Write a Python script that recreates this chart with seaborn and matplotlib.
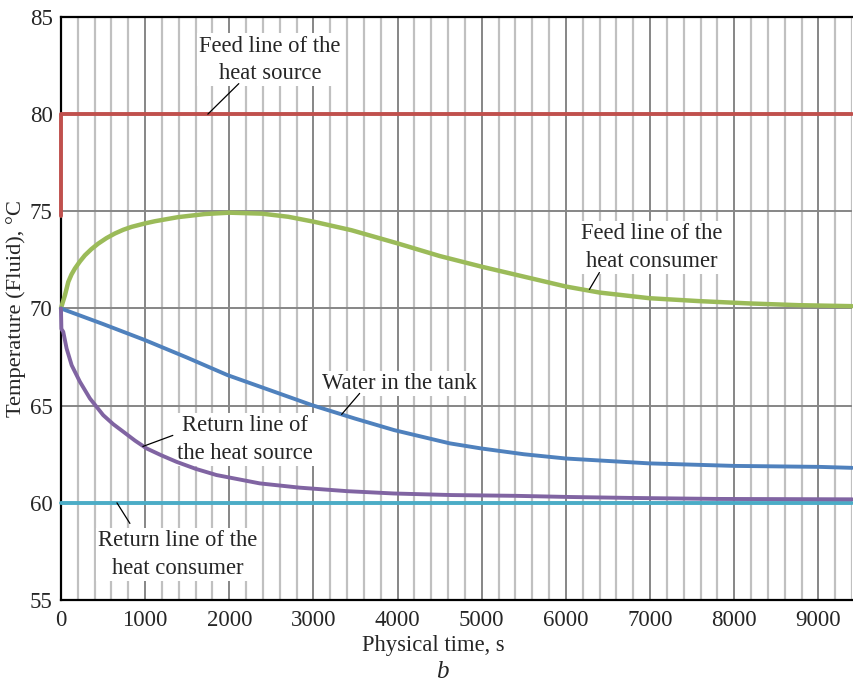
import numpy as np
import pandas as pd
import seaborn as sns
import matplotlib.pyplot as plt
from matplotlib.ticker import MultipleLocator

sns.set_style("white")
plt.rcParams["font.family"] = ["Liberation Serif", "DejaVu Serif"]

# Feed line of the heat source (red)
t_feed_src = [0, 0, 9400]
T_feed_src = [74.75, 80.0, 80.0]

# Return line of the heat consumer (cyan)
t_ret_con = [0, 9400]
T_ret_con = [60.0, 60.0]

# Feed line of the heat consumer (green)
t_feed_con = [0, 20, 47, 87, 125, 166, 225, 285, 360, 443, 540, 641, 740, 839,
              1000, 1116, 1390, 1710, 2000, 2390, 2700, 3010, 3450, 4000, 4500,
              5000, 5490, 6000, 6400, 6990, 7580, 8180, 8770, 9400]
T_feed_con = [70.0, 70.3, 70.68, 71.37, 71.75, 72.06, 72.42, 72.74, 73.05,
              73.34, 73.62, 73.86, 74.05, 74.2, 74.38, 74.49, 74.7, 74.86,
              74.93, 74.88, 74.72, 74.46, 74.03, 73.35, 72.7, 72.15, 71.65,
              71.13, 70.82, 70.53, 70.38, 70.26, 70.17, 70.12]

# Water in the tank (blue)
t_tank = [0, 500, 1000, 1500, 1980, 2500, 2980, 3490, 3960, 4620, 4990, 5500,
          6000, 6990, 8000, 9010, 9400]
T_tank = [70.0, 69.2, 68.37, 67.47, 66.57, 65.77, 65.03, 64.34, 63.74, 63.06,
          62.8, 62.5, 62.28, 62.03, 61.9, 61.85, 61.8]

# Return line of the heat source (purple)
t_ret_src = [0, 5, 27, 67, 127, 225, 344, 502, 620, 740, 880, 1017, 1190,
             1373, 1600, 1848, 2362, 2837, 3400, 3960, 4640, 5400, 6050, 6800,
             7800, 9400]
T_ret_src = [70.0, 68.95, 68.8, 67.94, 67.08, 66.23, 65.37, 64.51, 64.05,
             63.66, 63.2, 62.8, 62.45, 62.11, 61.75, 61.43, 61.0, 60.78, 60.6,
             60.48, 60.4, 60.36, 60.3, 60.25, 60.2, 60.18]

series = [
    (t_feed_src, T_feed_src, "#c0504d", 2.8),
    (t_ret_con, T_ret_con, "#4bacc6", 2.8),
    (t_feed_con, T_feed_con, "#9bbb59", 3.2),
    (t_tank, T_tank, "#4f81bd", 2.8),
    (t_ret_src, T_ret_src, "#8064a2", 2.8),
]

fig = plt.figure(figsize=(8.54, 6.85), dpi=100)
ax = fig.add_axes([0.0714, 0.1241, 0.9263, 0.8511])

for t, T, color, lw in series:
    df = pd.DataFrame({"t": t, "T": T})
    sns.lineplot(data=df, x="t", y="T", ax=ax, color=color, linewidth=lw,
                 sort=False, estimator=None, zorder=5, clip_on=False)

ax.set_xlim(0, 9400)
ax.set_ylim(55, 85)
ax.xaxis.set_major_locator(MultipleLocator(1000))
ax.xaxis.set_minor_locator(MultipleLocator(200))
ax.yaxis.set_major_locator(MultipleLocator(5))

ax.set_axisbelow(True)
ax.grid(which="minor", axis="x", color="#c0c0c0", linewidth=1.6)
ax.grid(which="major", axis="x", color="#868686", linewidth=1.4)
ax.grid(which="major", axis="y", color="#868686", linewidth=1.4)

for side in ("left", "bottom", "top"):
    ax.spines[side].set_color("black")
    ax.spines[side].set_linewidth(1.6)
    ax.spines[side].set_zorder(4)
ax.spines["right"].set_visible(False)

ax.tick_params(axis="both", which="major", direction="out", length=4,
               width=1.2, color="black", labelsize=16.5)
ax.tick_params(axis="x", which="major", pad=3)
ax.tick_params(axis="y", which="major", pad=2)
ax.tick_params(axis="x", which="minor", length=0)

ax.set_xlabel("Physical time, s", fontsize=16.3)
ax.xaxis.label.set_va("top")
ax.xaxis.set_label_coords((433.5 - 61) / 791, -35 / 583)
ax.set_ylabel("Temperature (Fluid), °C", fontsize=16.2, labelpad=3)

fig.text(442 / 854, 2 / 685, "b", fontsize=18, style="italic", ha="center",
         va="bottom")

# Leader labels: (text, text position, point on curve, end of leader)
labels = [
    ("Feed line of the\nheat source", (2481, 82.8), (1745, 80.0), (2113, 81.57)),
    ("Feed line of the\nheat consumer", (7015, 73.14), (6279, 70.98), (6398, 71.85)),
    ("Water in the tank", (4024, 66.15), (3335, 64.55), (3549, 65.63)),
    ("Return line of\nthe heat source", (2184, 63.26), (973, 62.9), (1329, 63.47)),
    ("Return line of the\nheat consumer", (1389, 57.34), (665, 60.0), (819, 58.94)),
]
for text, pos, p0, p1 in labels:
    ax.text(pos[0], pos[1], text, fontsize=16.3, ha="center", va="center",
            multialignment="center", linespacing=1.38, zorder=4.5,
            bbox=dict(boxstyle="square,pad=0.1", facecolor="white",
                      edgecolor="none"))
    ax.plot([p0[0], p1[0]], [p0[1], p1[1]], color="black", linewidth=0.9,
            zorder=7)

fig.savefig("out.png", dpi=100)
